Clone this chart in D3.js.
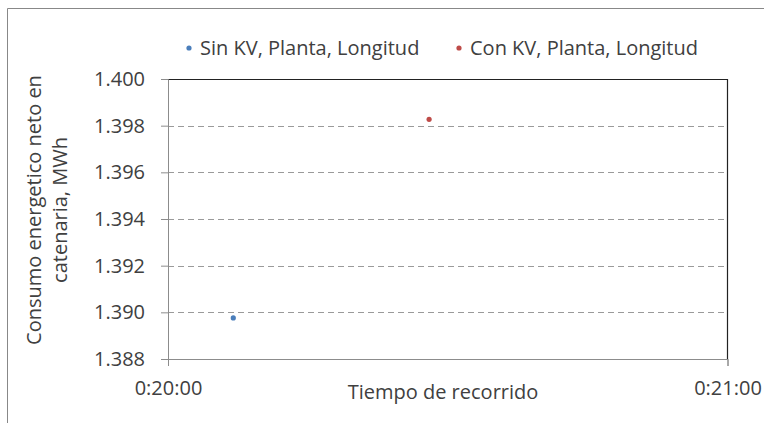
<!DOCTYPE html>
<html><head><meta charset="utf-8">
<script src="https://cdn.jsdelivr.net/npm/d3@7"></script>
<style>body{margin:0;background:#fff}svg{display:block}text{font-family:"Open Sans",sans-serif;fill:#404040}</style>
</head><body>
<svg id="c" width="764" height="423"></svg>
<script>
const seriesNames = ["Sin KV, Planta, Longitud", "Con KV, Planta, Longitud"];
const seriesColors = ["#4a7ebb", "#be4b48"];
const timesSec = [1207, 1228];           // seconds: 0:20:07, 0:20:28
const energyMWh = [1.38976, 1.39827];
const yTicks = [1.388, 1.390, 1.392, 1.394, 1.396, 1.398, 1.400];
const xTicks = [1200, 1260];
const xTickLabels = ["0:20:00", "0:21:00"];

const FS = 20;
const svg = d3.select("#c");
const L = 168, R = 727.5, T = 79, B = 359;
// outer border
svg.append("path").attr("d", "M7.5,423 V8.5 H764").attr("fill","none").attr("stroke","#888").attr("stroke-width",1);

const x = d3.scaleLinear().domain([1200,1260]).range([L,R]);
const y = d3.scaleLinear().domain([1.388,1.400]).range([B,T]);

// gridlines
svg.append("g").selectAll("line").data(yTicks.filter(d=>d>1.388 && d<1.400)).join("line")
  .attr("x1",L).attr("x2",R).attr("y1",d=>Math.round(y(d))+0.5).attr("y2",d=>Math.round(y(d))+0.5)
  .attr("stroke","#9a9a9a").attr("stroke-dasharray","6,4").attr("stroke-width",1.2);

// plot border top/right
svg.append("path").attr("d",`M${L},${T+0.5} H${R} V${B}`).attr("fill","none").attr("stroke","#222").attr("stroke-width",1.2);

// y axis
const yAxis = d3.axisLeft(y).tickValues(yTicks).tickFormat(d3.format(".3f")).tickSize(7).tickPadding(16);
const gy = svg.append("g").attr("transform",`translate(${L},0)`).call(yAxis);
gy.select(".domain").attr("stroke","#8c8c8c");
gy.selectAll(".tick line").attr("stroke","#8c8c8c");
gy.selectAll("text").attr("font-size",FS).attr("fill","#404040").style("font-family","'Open Sans',sans-serif");

// x axis
const xAxis = d3.axisBottom(x).tickValues(xTicks).tickFormat((d,i)=>xTickLabels[i]).tickSize(7).tickPadding(15);
const gx = svg.append("g").attr("transform",`translate(0,${B})`).call(xAxis);
gx.select(".domain").attr("stroke","#8c8c8c");
gx.selectAll(".tick line").attr("stroke","#8c8c8c");
gx.selectAll("text").attr("font-size",FS).attr("fill","#404040").style("font-family","'Open Sans',sans-serif");

// points
svg.append("g").selectAll("circle").data(timesSec.map((t,i)=>({t,v:energyMWh[i],i}))).join("circle")
  .attr("cx",d=>x(d.t)).attr("cy",d=>y(d.v)).attr("r",2.6).attr("fill",d=>seriesColors[d.i]);

// legend
const legX = [189, 459];
seriesNames.forEach((n,i)=>{
  svg.append("circle").attr("cx",legX[i]).attr("cy",48).attr("r",2.6).attr("fill",seriesColors[i]);
  svg.append("text").attr("x",legX[i]+11).attr("y",55).attr("font-size",FS).text(n);
});

// axis titles
svg.append("text").attr("x",443).attr("y",399).attr("text-anchor","middle").attr("font-size",FS).text("Tiempo de recorrido");
const yt = svg.append("text").attr("transform","translate(0,210) rotate(-90)").attr("text-anchor","middle").attr("font-size",FS);
yt.append("tspan").attr("x",0).attr("y",41).text("Consumo energetico neto en");
yt.append("tspan").attr("x",0).attr("y",67).text("catenaria, MWh");
</script>
</body></html>
